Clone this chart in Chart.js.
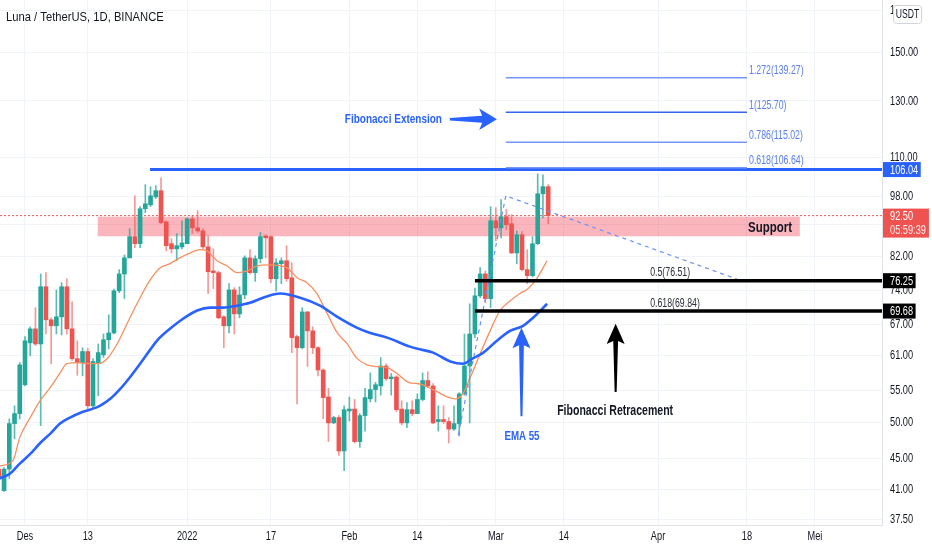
<!DOCTYPE html>
<html>
<head>
<meta charset="utf-8">
<script src="https://cdn.jsdelivr.net/npm/chart.js@4.4.1/dist/chart.umd.min.js"></script>
<style>
html,body{margin:0;padding:0;background:#ffffff;overflow:hidden}
canvas{display:block}
</style>
</head>
<body>
<canvas id="c" width="932" height="550"></canvas>
<script>
// ---------- DATA ----------
const title = 'Luna / TetherUS, 1D, BINANCE';
const currency = 'USDT';
const firstDay = -5; // day index relative to 1 Dec 2021

const opens = [43.6, 40.9, 43.6, 49.9, 51.4, 56.0, 63.4, 66.1, 63.2, 74.9,
  67.9, 66.7, 68.5, 74.9, 66.1, 60.5, 59.8, 61.8, 52.6, 59.8,
  61.2, 64.0, 65.3, 74.0, 77.8, 81.6, 86.9, 85.1, 94.4, 95.5,
  97.8, 99.6, 90.8, 85.1, 83.8, 84.3, 85.1, 91.6, 89.2, 88.4,
  84.3, 78.5, 78.1, 68.5, 66.7, 74.2, 69.1, 73.1, 81.6, 78.1,
  81.4, 87.1, 86.9, 76.7, 80.2, 80.9, 76.9, 64.6, 62.5, 69.5,
  65.7, 62.5, 58.5, 54.0, 50.0, 50.8, 46.0, 51.8, 52.1, 47.3,
  51.1, 53.7, 55.2, 55.8, 59.2, 57.0, 57.3, 52.1, 50.0, 52.0,
  51.4, 53.6, 56.7, 55.8, 50.2, 50.5, 50.2, 49.1, 49.9, 54.5,
  59.2, 65.1, 72.9, 77.8, 72.3, 91.1, 89.2, 92.2, 90.3, 82.8,
  87.4, 78.8, 77.4, 85.1, 98.7, 100.8];
const highs = [44.0, 43.8, 50.6, 52.6, 59.8, 64.6, 66.5, 70.4, 77.8, 78.1,
  68.3, 74.2, 75.8, 76.7, 71.6, 63.8, 62.5, 62.4, 60.5, 63.2,
  65.1, 68.9, 74.4, 78.8, 82.3, 89.0, 98.1, 95.0, 101.4, 100.8,
  101.1, 103.5, 91.1, 86.4, 87.7, 91.1, 91.9, 92.5, 93.9, 89.0,
  87.1, 83.8, 78.5, 68.7, 75.6, 74.7, 74.9, 82.1, 83.6, 82.1,
  88.0, 87.4, 87.1, 81.4, 81.6, 84.6, 80.4, 64.9, 70.4, 69.6,
  66.5, 62.7, 58.7, 55.4, 51.0, 51.1, 52.6, 54.0, 53.6, 51.4,
  55.4, 58.0, 56.4, 60.7, 59.6, 57.9, 57.5, 53.4, 53.1, 53.4,
  54.5, 58.0, 58.2, 56.2, 52.6, 52.6, 50.8, 52.6, 54.7, 65.1,
  71.2, 74.6, 79.3, 78.5, 95.0, 94.7, 97.0, 94.2, 92.8, 88.4,
  88.2, 83.6, 86.9, 104.7, 104.4, 101.4];
const lows = [42.1, 40.8, 42.4, 47.7, 50.6, 55.8, 61.0, 62.9, 49.6, 65.1,
  59.6, 65.1, 64.9, 65.1, 60.2, 57.6, 57.5, 52.1, 52.1, 54.2,
  60.7, 62.3, 65.1, 73.6, 72.3, 81.6, 84.1, 84.1, 93.3, 95.0,
  97.3, 90.3, 83.3, 82.8, 80.9, 83.8, 85.1, 87.7, 88.0, 83.8,
  73.4, 74.5, 68.1, 62.5, 65.3, 65.1, 68.3, 72.3, 77.8, 76.1,
  80.4, 81.6, 75.8, 74.0, 75.6, 76.1, 61.6, 52.9, 62.3, 59.1,
  61.4, 57.5, 50.6, 47.3, 49.9, 45.4, 43.4, 50.3, 47.1, 46.5,
  48.8, 53.2, 53.2, 54.3, 56.7, 54.3, 51.7, 49.7, 49.3, 51.1,
  51.4, 53.4, 55.5, 49.9, 48.8, 49.9, 47.1, 48.9, 48.1, 54.3,
  50.0, 64.4, 72.5, 71.4, 70.4, 85.9, 86.6, 88.7, 82.6, 80.2,
  78.5, 75.6, 77.1, 84.9, 91.9, 90.3];
const closes = [42.4, 43.6, 49.9, 51.4, 59.4, 63.8, 66.1, 63.2, 74.9, 67.9,
  66.7, 68.5, 74.9, 66.1, 60.5, 59.8, 61.8, 52.6, 60.0, 61.6,
  64.0, 65.3, 74.0, 77.8, 81.6, 86.9, 85.1, 94.4, 95.8, 98.1,
  99.6, 90.6, 84.6, 83.8, 84.6, 85.3, 91.6, 89.2, 88.4, 84.3,
  78.3, 78.1, 68.3, 66.7, 74.2, 69.1, 73.1, 81.6, 78.1, 81.4,
  86.9, 86.6, 76.7, 80.4, 80.9, 76.7, 64.4, 62.5, 69.5, 65.7,
  62.5, 58.5, 53.9, 50.0, 50.8, 46.0, 52.0, 52.1, 47.3, 51.1,
  53.9, 55.2, 56.0, 59.2, 57.0, 57.3, 52.0, 50.0, 52.0, 51.4,
  53.6, 56.7, 55.8, 50.0, 50.5, 50.2, 49.1, 49.9, 54.5, 59.2,
  65.1, 72.9, 77.8, 72.3, 91.1, 89.2, 92.2, 90.0, 82.8, 87.4,
  78.8, 77.4, 85.1, 98.7, 100.8, 92.5];

// EMA curves
const emaFastDays = [-4.8, -2.3, -1.0, 1.0, 2.9, 4.8, 6.7, 8.0, 9.9, 11.9,
  13.8, 15.7, 17.6, 19.5, 21.4, 23.9, 25.8, 27.7, 29.6, 31.6, 33.5,
  34.8, 36.7, 38.6, 40.5, 42.5, 44.4, 46.8, 50.1, 52.0, 53.9,
  55.8, 57.7, 59.7, 61.6, 63.5, 65.4, 67.3, 69.2, 71.1, 73.6,
  75.0, 78.0, 80.7, 82.2, 83.7, 85.1, 87.0, 88.9, 90.8, 92.7,
  94.6, 96.2, 97.9, 99.8];
const emaFastValues = [44.0, 44.7, 47.9, 50.8, 53.4, 55.5, 58.0, 59.6, 59.8, 59.6,
  59.6, 60.5, 63.2, 67.1, 71.2, 76.4, 79.2, 80.2, 81.6, 82.8, 83.6,
  83.3, 80.9, 79.7, 78.1, 78.5, 79.7, 79.9, 79.2, 76.9, 75.8,
  73.4, 69.3, 65.3, 63.2, 60.5, 59.4, 59.1, 58.9, 57.9, 56.3,
  56.2, 55.2, 54.0, 53.7, 54.5, 57.2, 61.4, 65.7, 69.8, 71.8,
  73.4, 74.5, 76.9, 80.9];
const ema55Days = [-4.8, -2.9, -1.0, 1.0, 2.9, 4.8, 6.7, 8.6, 10.5, 12.4,
  14.3, 16.3, 18.2, 20.1, 22.0, 23.9, 25.2, 27.7, 30.2, 32.9,
  35.4, 37.9, 40.5, 43.0, 45.5, 48.8, 52.6, 56.4, 59.7, 63.5,
  66.0, 69.2, 73.6, 75.0, 78.0, 81.3, 83.7, 85.5, 87.6, 90.2,
  92.7, 95.2, 97.1, 99.8];
const ema55Values = [42.4, 43.0, 44.3, 45.6, 47.1, 48.4, 49.9, 50.8, 51.5, 52.0,
  52.6, 53.7, 55.3, 57.3, 59.6, 62.1, 63.8, 66.1, 68.1, 69.8,
  70.4, 70.4, 70.8, 71.4, 72.5, 73.4, 72.5, 70.8, 68.5, 66.3,
  65.3, 64.4, 62.7, 62.3, 61.6, 60.0, 59.6, 60.5, 61.6, 63.8,
  65.7, 66.7, 68.3, 71.2];

// Levels and drawings
const resistance = 106.04;
const lastPrice = 92.50;
const countdown = '05:59:39';
const supportZone = [87.0, 92.2];
const fibExtRatios = ['1.272', '1', '0.786', '0.618'];
const fibExtValues = [139.27, 125.70, 115.02, 106.64];
const fibRetRatios = ['0.5', '0.618'];
const fibRetValues = [76.51, 69.84];
const fibRetLines = [76.25, 69.68];
const trendDays = [82.8, 91.9, 136.1];
const trendValues = [48.2, 98.1, 76.6];

// Axes
const yTicks = [37.5, 41, 45, 50, 55, 61, 67, 74, 82, 90, 98, 110, 130, 150, 170];
const xTickDays = [0, 12, 31, 47, 62, 75, 90, 103, 121, 138, 151];
const xTickLabels = ['Des', '13', '2022', '17', 'Feb', '14', 'Mar', '14', 'Apr', '18', 'Mei'];

// ---------- VIEW / STYLE ----------
const xMin = -4.778, xMax = 163.81;
const yMin = 36.93, yMax = 175.4;
const FONT = "'Liberation Sans', Arial, sans-serif";
const UP = '#26a69a', DOWN = '#ef5350';
const UP_W = 'rgba(38,166,154,0.75)', DOWN_W = 'rgba(239,83,80,0.6)';
const BLUE = '#2962ff';
const INK = '#131722';

const days = opens.map((_, i) => firstDay + i);
const isUp = opens.map((o, i) => closes[i] >= o);

const pts = (xs, ys) => xs.map((x, i) => ({x: x, y: ys[i]}));
const hline = (x0, x1, v) => [{x: x0, y: v}, {x: x1, y: v}];

const pos = {
  supportStart: 13.9, supportEnd: 148.1,
  resistanceStart: 23.9,
  fibExtStart: 91.9, fibExtEnd: 138.0, fibExtLabel: 138.4,
  fibRetStart: 86.0, fibRetLabel: 119.5,
  extArrow: {tail: 81.2, barb: 87.2, tip: 90.2, v: 123.1},
  extText: {d: 79.7, v: 123.1},
  emaArrow: {d: 94.9, tip: 66.3, barb: 62.4, tail: 51.0},
  emaText: {d: 95.0, v: 48.1},
  retArrow: {d: 112.9, tip: 67.1, barb: 63.2, tail: 54.8},
  retText: {d: 112.8, v: 51.8},
  supportText: {d: 142.4, v: 89.1}
};

const datasets = [
  {type: 'bar', data: days.map((d, i) => ({x: d, y: [lows[i], highs[i]]})),
   backgroundColor: isUp.map(u => u ? UP_W : DOWN_W), barThickness: 1, grouped: false, order: 20},
  {type: 'bar', data: days.map((d, i) => ({x: d, y: [opens[i], closes[i]]})),
   backgroundColor: isUp.map(u => u ? UP : DOWN), barThickness: 4, grouped: false, minBarLength: 1, order: 19},
  {type: 'line', data: pts(emaFastDays, emaFastValues), borderColor: '#f7905f', borderWidth: 1.3,
   pointRadius: 0, cubicInterpolationMode: 'monotone', order: 6},
  {type: 'line', data: pts(ema55Days, ema55Values), borderColor: BLUE, borderWidth: 2.6,
   pointRadius: 0, cubicInterpolationMode: 'monotone', order: 5},
  {type: 'line', data: hline(xMin, xMax, lastPrice), borderColor: '#f05a57', borderWidth: 1,
   borderDash: [2, 2], pointRadius: 0, order: 30},
  {type: 'line', data: hline(pos.resistanceStart, xMax, resistance), borderColor: BLUE, borderWidth: 3,
   pointRadius: 0, order: 3},
  {type: 'line', data: pts(trendDays, trendValues), borderColor: '#6d8ff5', borderWidth: 1.2,
   borderDash: [4, 4], pointRadius: 0, tension: 0, order: 4}
];
fibExtValues.forEach((v, i) => datasets.push({
  type: 'line', data: hline(pos.fibExtStart, pos.fibExtEnd, v),
  borderColor: fibExtRatios[i] === '1' ? '#3565ee' : '#7596f6', borderWidth: 1.6, pointRadius: 0, order: 2
}));
fibRetLines.forEach(v => datasets.push({
  type: 'line', data: hline(pos.fibRetStart, xMax, v), borderColor: '#000000', borderWidth: 3.5,
  pointRadius: 0, order: 1
}));

// text drawn with a horizontally condensed Liberation Sans (the reference uses a narrow face)
function ntext(ctx, str, x, y, align, font, color, k) {
  ctx.save();
  ctx.font = font;
  ctx.fillStyle = color;
  ctx.textAlign = align;
  ctx.textBaseline = 'middle';
  ctx.translate(x, y);
  ctx.scale(k, 1);
  ctx.fillText(str, 0, 0);
  ctx.restore();
}
function nwidth(ctx, str, font, k) {
  ctx.save(); ctx.font = font; const w = ctx.measureText(str).width * k; ctx.restore(); return w;
}

function upArrow(ctx, cx, tipY, barbY, tailY, half, color) {
  ctx.beginPath();
  ctx.moveTo(cx, tipY);
  ctx.lineTo(cx + half, barbY);
  ctx.lineTo(cx + 2.4, barbY - 3);
  ctx.lineTo(cx + 1, tailY);
  ctx.lineTo(cx - 1, tailY);
  ctx.lineTo(cx - 2.4, barbY - 3);
  ctx.lineTo(cx - half, barbY);
  ctx.closePath();
  ctx.fillStyle = color;
  ctx.fill();
}

const AXF = `13px ${FONT}`, AXK = 0.71;

const annot = {
  id: 'annot',
  beforeDatasetsDraw(chart) {
    const {ctx, chartArea: a, scales: {x, y}} = chart;
    ctx.save();
    ctx.beginPath(); ctx.rect(a.left, a.top, a.right - a.left, a.bottom - a.top); ctx.clip();
    const x0 = x.getPixelForValue(pos.supportStart), x1 = x.getPixelForValue(pos.supportEnd);
    const y0 = y.getPixelForValue(supportZone[1]), y1 = y.getPixelForValue(supportZone[0]);
    ctx.fillStyle = 'rgba(242,54,69,0.36)';
    ctx.fillRect(x0, y0, x1 - x0, y1 - y0);
    ctx.restore();
  },
  afterDatasetsDraw(chart) {
    const {ctx, scales: {x, y}} = chart;
    ctx.save();
    fibExtValues.forEach((v, i) => {
      ntext(ctx, `${fibExtRatios[i]}(${v.toFixed(2)})`, x.getPixelForValue(pos.fibExtLabel),
        y.getPixelForValue(v) - 7, 'left', `12.5px ${FONT}`, '#5a7ef0', 0.70);
    });
    fibRetValues.forEach((v, i) => {
      ntext(ctx, `${fibRetRatios[i]}(${v.toFixed(2)})`, x.getPixelForValue(pos.fibRetLabel),
        y.getPixelForValue(fibRetLines[i]) - 8, 'left', `12.5px ${FONT}`, '#2a2e39', 0.70);
    });
    ntext(ctx, 'Support', x.getPixelForValue(pos.supportText.d), y.getPixelForValue(pos.supportText.v),
      'center', `bold 15px ${FONT}`, INK, 0.765);
    ntext(ctx, 'Fibonacci Extension', x.getPixelForValue(pos.extText.d), y.getPixelForValue(pos.extText.v),
      'right', `bold 13.5px ${FONT}`, BLUE, 0.74);
    const ay = y.getPixelForValue(pos.extArrow.v);
    const tx = x.getPixelForValue(pos.extArrow.tail), bx = x.getPixelForValue(pos.extArrow.barb), px = x.getPixelForValue(pos.extArrow.tip);
    ctx.beginPath();
    ctx.moveTo(px, ay);
    ctx.lineTo(bx - 2, ay - 10.8);
    ctx.lineTo(bx + 1, ay - 3.5);
    ctx.lineTo(tx, ay - 1.3);
    ctx.lineTo(tx, ay + 1.3);
    ctx.lineTo(bx + 1, ay + 3.5);
    ctx.lineTo(bx - 2, ay + 10.8);
    ctx.closePath();
    ctx.fillStyle = BLUE;
    ctx.fill();
    upArrow(ctx, x.getPixelForValue(pos.emaArrow.d), y.getPixelForValue(pos.emaArrow.tip),
      y.getPixelForValue(pos.emaArrow.barb), y.getPixelForValue(pos.emaArrow.tail), 9, BLUE);
    ntext(ctx, 'EMA 55', x.getPixelForValue(pos.emaText.d), y.getPixelForValue(pos.emaText.v),
      'center', `bold 13px ${FONT}`, BLUE, 0.745);
    upArrow(ctx, x.getPixelForValue(pos.retArrow.d), y.getPixelForValue(pos.retArrow.tip),
      y.getPixelForValue(pos.retArrow.barb), y.getPixelForValue(pos.retArrow.tail), 9, '#000000');
    ntext(ctx, 'Fibonacci Retracement', x.getPixelForValue(pos.retText.d), y.getPixelForValue(pos.retText.v),
      'center', `bold 14px ${FONT}`, INK, 0.753);
    ctx.restore();
  },
  afterDraw(chart) {
    const {ctx, chartArea: a, scales: {x, y}} = chart;
    ctx.save();
    const L = a.right + 1, TX = a.right + 8;
    // axis tick labels
    yTicks.forEach(v => ntext(ctx, v.toFixed(2), TX, y.getPixelForValue(v), 'left', AXF, INK, AXK));
    xTickDays.forEach((d, i) => ntext(ctx, xTickLabels[i], x.getPixelForValue(d), a.bottom + 11, 'center', AXF, INK, AXK));
    // value badges
    const box = (v, color, label) => {
      const py = y.getPixelForValue(v);
      const w = nwidth(ctx, label, AXF, AXK);
      ctx.fillStyle = color;
      ctx.fillRect(L, py - 7.5, (TX - L) + w + 2.5, 15);
      ntext(ctx, label, TX, py + 0.5, 'left', AXF, '#ffffff', AXK);
    };
    box(resistance, BLUE, resistance.toFixed(2));
    fibRetLines.forEach(v => box(v, '#000000', v.toFixed(2)));
    const py = y.getPixelForValue(lastPrice);
    const wl = Math.max(nwidth(ctx, lastPrice.toFixed(2), AXF, AXK), nwidth(ctx, countdown, AXF, AXK));
    ctx.fillStyle = '#ef5350';
    ctx.fillRect(L, py - 7, (TX - L) + wl + 3, 29);
    ntext(ctx, lastPrice.toFixed(2), TX, py + 0.5, 'left', AXF, '#ffffff', AXK);
    ntext(ctx, countdown, TX, py + 14.5, 'left', AXF, 'rgba(255,255,255,0.88)', AXK);
    // currency badge
    ctx.fillStyle = '#ffffff';
    ctx.strokeStyle = '#d1d4dc';
    ctx.lineWidth = 1;
    ctx.beginPath();
    ctx.roundRect(893.5, 5.5, 28, 18, 3);
    ctx.fill(); ctx.stroke();
    ntext(ctx, currency, 907.5, 15, 'center', `12px ${FONT}`, INK, 0.72);
    // title
    ntext(ctx, title, 6, 17, 'left', `13px ${FONT}`, INK, 0.863);
    ctx.restore();
  }
};

new Chart(document.getElementById('c'), {
  type: 'bar',
  data: {datasets: datasets},
  options: {
    responsive: false,
    animation: false,
    devicePixelRatio: 1,
    layout: {padding: 0},
    plugins: {legend: {display: false}, tooltip: {enabled: false}},
    scales: {
      x: {
        type: 'linear', min: xMin, max: xMax, offset: false, bounds: 'data',
        afterBuildTicks: s => { s.ticks = xTickDays.map(v => ({value: v})); },
        afterFit: s => { s.height = 25; },
        ticks: {display: false, autoSkip: false},
        grid: {color: '#f0f3fa', drawTicks: false, offset: false},
        border: {color: '#e0e3eb'}
      },
      y: {
        type: 'logarithmic', position: 'right', min: yMin, max: yMax, bounds: 'data',
        afterBuildTicks: s => { s.ticks = yTicks.map(v => ({value: v})); },
        afterFit: s => { s.width = 50; },
        ticks: {display: false, autoSkip: false},
        grid: {color: '#f0f3fa', drawTicks: false},
        border: {color: '#e0e3eb'}
      }
    }
  },
  plugins: [annot]
});
</script>
</body>
</html>
